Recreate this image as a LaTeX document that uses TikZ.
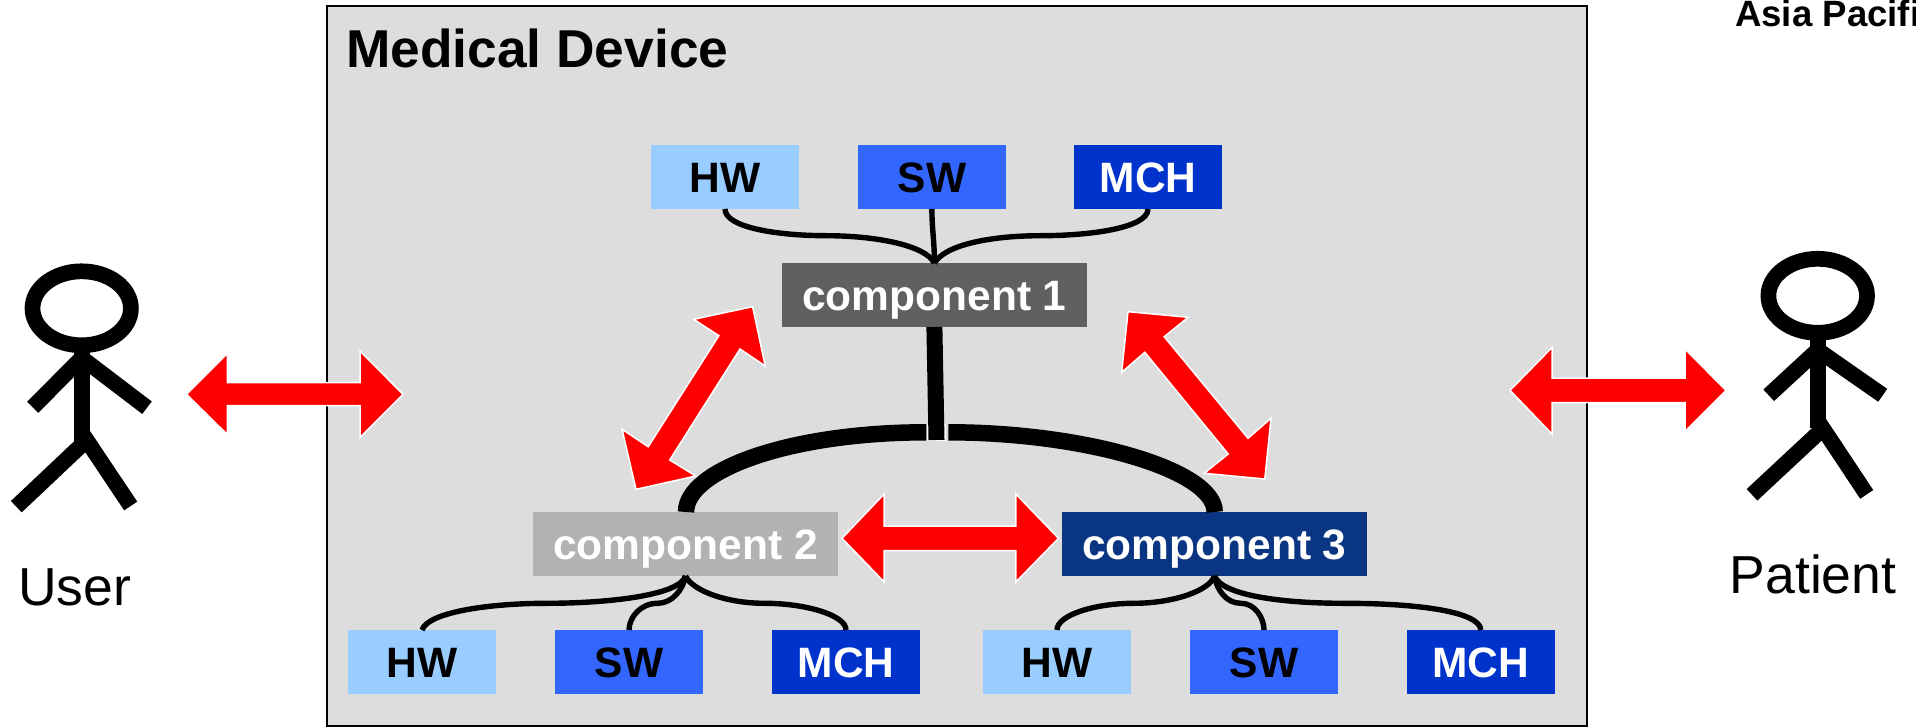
\documentclass[tikz,border=0pt]{standalone}
\usepackage{fontspec}
\setmainfont{Liberation Sans}
\definecolor{panelgrey}{HTML}{DDDDDD}
\definecolor{hwblue}{HTML}{99CCFF}
\definecolor{swblue}{HTML}{3366FF}
\definecolor{mchblue}{HTML}{0033CC}
\definecolor{compA}{HTML}{606060}
\definecolor{compB}{HTML}{B2B2B2}
\definecolor{compC}{HTML}{0A3582}
\tikzset{
  box/.style={rectangle,inner sep=0pt,outer sep=0pt,text height=47.7pt,text depth=16.3pt,align=center,font=\fontsize{42.5}{50}\selectfont\bfseries},
  smallbox/.style={box,minimum width=148pt},
  compbox/.style={box,minimum width=305pt,text=white},
  hwbox/.style={smallbox,fill=hwblue,text=black},
  swbox/.style={smallbox,fill=swblue,text=black},
  mchbox/.style={smallbox,fill=mchblue,text=white},
  thin link/.style={line width=5.4pt,black},
  thick link/.style={line width=16.5pt,black},
  figure line/.style={line width=15.7pt,black,line join=miter},
  redarrow/.style={fill=red,draw=white,line width=1.5pt,line join=miter},
  caption/.style={inner sep=0pt,anchor=base,font=\fontsize{53.5}{60}\selectfont}
}
\begin{document}
\begin{tikzpicture}[x=1pt,y=-1pt]
\useasboundingbox (0,0) rectangle (1916,727);
\clip (0,0) rectangle (1916,727);
% panel
\node[rectangle,draw=black,fill=panelgrey,line width=2pt,inner sep=0pt,minimum width=1260pt,minimum height=720pt] (panel) at (956.5,365.7) {};
\node[caption,font=\fontsize{53.3}{60}\selectfont\bfseries,anchor=base west] (title) at (346,68) {Medical Device};
\node[inner sep=0pt,anchor=base west,font=\fontsize{36.6}{42}\selectfont\bfseries] (asia) at (1735,26.8) {Asia Pacific};
% boxes
\node[hwbox]  (hw1)  at (725,177) {HW};
\node[swbox]  (sw1)  at (931.9,177) {SW};
\node[mchbox] (mch1) at (1148,177) {MCH};
\node[compbox,fill=compA] (c1) at (934.4,295) {component 1};
\node[compbox,fill=compB] (c2) at (685.5,544) {component 2};
\node[compbox,fill=compC] (c3) at (1214.4,544) {component 3};
\node[hwbox]  (hw2)  at (422,662) {HW};
\node[swbox]  (sw2)  at (629,662) {SW};
\node[mchbox] (mch2) at (846,662) {MCH};
\node[hwbox]  (hw3)  at (1057,662) {HW};
\node[swbox]  (sw3)  at (1264,662) {SW};
\node[mchbox] (mch3) at (1480.8,662) {MCH};
% thin links, top
\draw[thin link] (hw1.south) .. controls (725,228) and (780,235.7) .. (826,235.7) .. controls (875,235.7) and (925,245) .. (c1.north);
\draw[thin link] (sw1.south) .. controls (931.9,230) and (934.4,240) .. (c1.north);
\draw[thin link] (mch1.south) .. controls (1148,228) and (1090,235.7) .. (1041,235.7) .. controls (990,235.7) and (945,245) .. (c1.north);
% thin links, component 2
\draw[thin link] (hw2.north) .. controls (428,612) and (490,603.3) .. (546.7,603.3) .. controls (610,603.3) and (680,595) .. (c2.south);
\draw[thin link] (sw2.north) .. controls (629,618) and (640,603.3) .. (657.6,603.3) .. controls (672,603.3) and (683,590) .. (c2.south);
\draw[thin link] (mch2.north) .. controls (846,615) and (805,603.3) .. (764.8,603.3) .. controls (725,603.3) and (692,590) .. (c2.south);
% thin links, component 3
\draw[thin link] (hw3.north) .. controls (1057,615) and (1095,603.3) .. (1133.6,603.3) .. controls (1175,603.3) and (1210,590) .. (c3.south);
\draw[thin link] (sw3.north) .. controls (1264,618) and (1255,603.3) .. (1241,603.3) .. controls (1226,603.3) and (1217,590) .. (c3.south);
\draw[thin link] (mch3.north) .. controls (1480,612) and (1420,603.3) .. (1344,603.3) .. controls (1280,603.3) and (1222,595) .. (c3.south);
% thick links
\coordinate (jl) at (926.4,432.3);
\coordinate (jr) at (948.3,432.3);
\coordinate (jb) at (936.5,440);
\draw[thick link] (jl) .. controls (790,432.3) and (686,470) .. (686,512);
\draw[thick link] (jr) .. controls (1085,432.3) and (1214.7,470) .. (1214.7,512);
\draw[white,line width=1.2pt] (928,424) -- (928,440.6) -- (945,440.6) -- (945,424);
\draw[line width=16pt,black] (c1.south) -- (jb);
% red arrows
\draw[redarrow] (186.5,394.3) -- (227.3,353.5) -- (227.3,382.7) -- (360,382.7) -- (360,351) -- (403,394.3) -- (360,437.5) -- (360,405.7) -- (227.3,405.7) -- (227.3,434.5) -- cycle;
\draw[redarrow] (1510,390.4) -- (1552,347.5) -- (1552,378) -- (1685,378) -- (1685,349) -- (1726,390.4) -- (1685,431.5) -- (1685,402.6) -- (1552,402.6) -- (1552,434) -- cycle;
\draw[redarrow] (752.6,306.7) -- (765.2,366) -- (740,349) -- (669.7,460) -- (695.8,476) -- (636,489.3) -- (622.1,429.3) -- (648.2,446.7) -- (718.9,335.7) -- (693.7,319.3) -- cycle;
\draw[redarrow] (1128,311.7) -- (1188.2,317.3) -- (1164.2,336.7) -- (1248,438.3) -- (1271,418.3) -- (1264.8,479) -- (1204.2,473.3) -- (1228.2,454) -- (1144.8,352.3) -- (1121.7,372.3) -- cycle;
\draw[redarrow] (842,538.3) -- (884.2,494) -- (884.2,526) -- (1015.8,526) -- (1015.8,494) -- (1058.5,538.3) -- (1015.8,582) -- (1015.8,550.7) -- (884.2,550.7) -- (884.2,582) -- cycle;
% user figure
\draw[figure line] (81.7,308.3) ellipse [x radius=49.2,y radius=37];
\draw[figure line] (81.7,345) -- (81.7,442);
\draw[figure line] (32.7,407.3) -- (81.7,358);
\draw[figure line] (147,407.7) -- (81.7,358);
\draw[figure line] (16.3,506.7) -- (86.7,440.2) -- (130.7,506);
\node[caption] (user) at (74.5,605) {User};
% patient figure
\draw[figure line] (1817.7,295.8) ellipse [x radius=49.3,y radius=37];
\draw[figure line] (1817.7,335) -- (1817.7,428);
\draw[figure line] (1768.7,395.3) -- (1817.7,350);
\draw[figure line] (1882.7,395.3) -- (1817.7,350);
\draw[figure line] (1752,494.8) -- (1823,428.6) -- (1866.7,494.4);
\node[caption] (patient) at (1813,593) {Patient};
\end{tikzpicture}
\end{document}
